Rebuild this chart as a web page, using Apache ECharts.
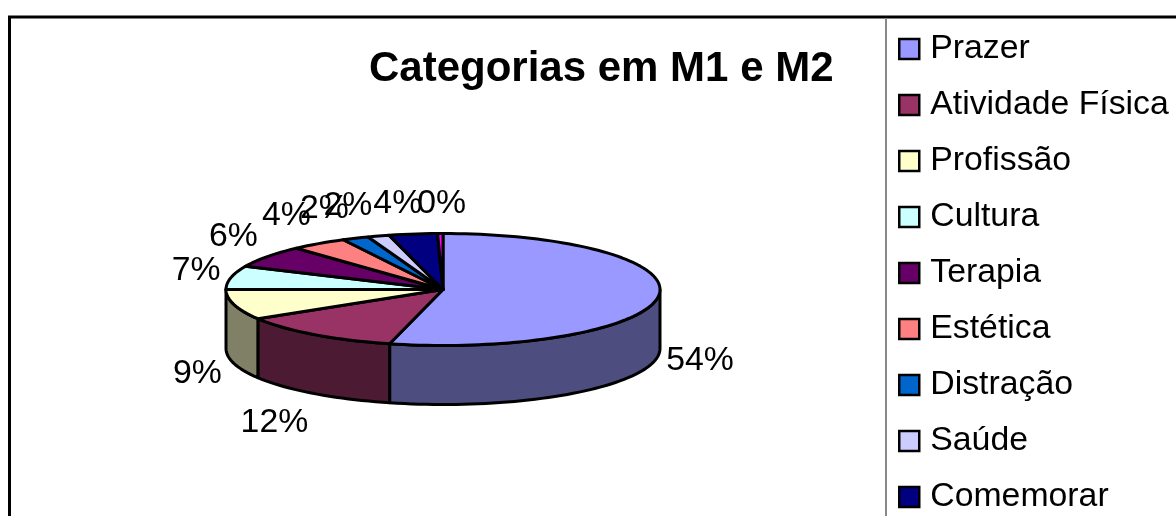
<!DOCTYPE html>
<html><head><meta charset="utf-8">
<style>html,body{margin:0;padding:0;background:#fff}#c{width:1176px;height:516px}</style>
<script src="https://cdn.jsdelivr.net/npm/echarts@6/dist/echarts.min.js"></script>
</head><body><div id="c"></div>
<script>
const categories = ['Prazer','Atividade Física','Profissão','Cultura','Terapia','Estética','Distração','Saúde','Comemorar','Outros'];
const shares = [53.9,12.3,8.8,6.7,6.4,4.2,2.0,1.6,3.6,0.4];
const colors = ['#9999FF','#993366','#FFFFCC','#CCFFFF','#660066','#FF8080','#0066CC','#CCCCFF','#000080','#FF00FF'];
const legendNames = categories.slice(0,9);
const titleText = 'Categorias em M1 e M2';

const FONT = '"Liberation Sans", Arial, sans-serif';
const CX = 443, CY = 289.5, RX = 217, RY = 56, DEPTH = 59;
const total = shares.reduce((a,b)=>a+b,0);
const clamp = (v,a,b)=>Math.max(a,Math.min(b,v));
const pt = (deg,dy=0)=>{const r=deg*Math.PI/180;return [CX+RX*Math.sin(r),CY-RY*Math.cos(r)+dy];};
const arc = (a,b,dy=0)=>{const n=Math.max(1,Math.ceil((b-a)/2));const out=[];for(let i=0;i<=n;i++)out.push(pt(a+(b-a)*i/n,dy));return out;};
const darker = hex=>{const n=parseInt(hex.slice(1),16);const h=v=>Math.round(v/2).toString(16).padStart(2,'0');return '#'+h(n>>16)+h((n>>8)&255)+h(n&255);};

const line = {stroke:'#000',lineWidth:3,lineJoin:'round'};
function makeRender(idx){
  return function(params,api){
    const v = api.value(0);
    let before = 0; for(let i=0;i<idx;i++) before += shares[i];
    const a0 = before/total*360, a1 = (before+v)/total*360, mid=(a0+a1)/2;
    const children = [];
    const wa = Math.max(a0,90), wb = Math.min(a1,270);
    if(wb>wa){
      const pts = arc(wa,wb).concat(arc(wa,wb,DEPTH).reverse());
      children.push({type:'polygon',shape:{points:pts},style:Object.assign({fill:darker(colors[idx])},line)});
    }
    children.push({type:'polygon',shape:{points:[[CX,CY]].concat(arc(a0,a1))},style:Object.assign({fill:colors[idx]},line)});
    const r = mid*Math.PI/180, s=Math.sin(r), c=Math.cos(r), p=pt(mid,c<0?DEPTH:0);
    const m = 38 - (c>0 ? 5*c*c*c : 6*c);
    children.push({type:'text',z2:20,style:{
      x:p[0]+3+m*clamp(4*s,-1,1), y:p[1]+1+Math.max(-35*c,-31),
      text:Math.round(v/total*100)+'%',
      font:'33.8px '+FONT, fill:'#000', align:'center', verticalAlign:'middle'}});
    return {type:'group',children};
  };
}

const chart = echarts.init(document.getElementById('c'));
chart.setOption({
  animation:false,
  backgroundColor:'#fff',
  title:{text:titleText,left:369,top:48,padding:0,textStyle:{fontFamily:FONT,fontWeight:'bold',fontSize:42,color:'#000'}},
  legend:{orient:'vertical',left:898,top:30,height:640,padding:0,icon:'rect',itemWidth:20,itemHeight:20,itemGap:18,
    selectedMode:false,data:legendNames,
    itemStyle:{borderColor:'#000',borderWidth:2.5},
    textStyle:{fontFamily:FONT,fontSize:33.8,color:'#000',padding:[0,0,0,6],lineHeight:38}},
  graphic:[
    {type:'line',shape:{x1:8,y1:17,x2:1176,y2:17},style:{stroke:'#000',lineWidth:3}},
    {type:'line',shape:{x1:9.5,y1:17,x2:9.5,y2:516},style:{stroke:'#000',lineWidth:3}},
    {type:'line',shape:{x1:886,y1:18,x2:886,y2:516},style:{stroke:'#888',lineWidth:2}}
  ],
  series:categories.map((name,i)=>({
    type:'custom',name,coordinateSystem:'none',silent:true,
    itemStyle:{color:colors[i]},
    renderItem:makeRender(i),
    data:[{name,value:[shares[i]]}]
  }))
});
</script></body></html>
